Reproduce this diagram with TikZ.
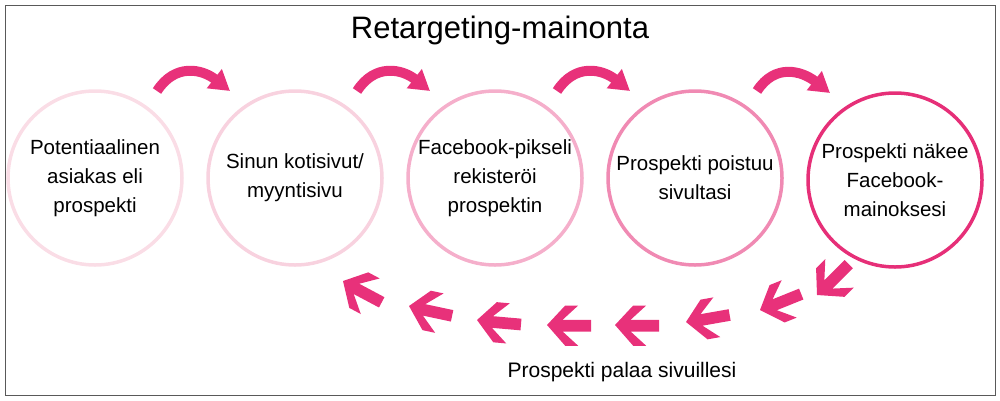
\documentclass[tikz,border=0pt]{standalone}
\usepackage{fontspec}
\setmainfont{Liberation Sans}
\usetikzlibrary{arrows.meta}
\definecolor{pk}{HTML}{E8317A}
\definecolor{ca}{HTML}{FADDE6}
\definecolor{cb}{HTML}{F8D2DF}
\definecolor{cc}{HTML}{F5AFCB}
\definecolor{cd}{HTML}{F08AB3}
\definecolor{ce}{HTML}{E62F78}
\begin{document}
\begin{tikzpicture}[x=1pt,y=-1pt,
  circ/.style={circle,draw=#1,line width=3.5pt,minimum size=174pt,align=center,font=\fontsize{20.5}{29}\selectfont,inner sep=0pt},
  curv/.style={draw=pk,line width=10pt,-{Triangle[length=20pt,width=34pt,angle'=60]}},
  chev/.pic={\fill[pk,scale=1.3] (0,0) -- (14,-15) -- (24,-15) -- (12,-4) -- (34,-4) -- (34,5) -- (12,5) -- (24,16) -- (14,16) -- cycle;}]
\useasboundingbox (0,0) rectangle (1000,400);
\draw[gray!70!black,line width=1pt] (5,5) rectangle (995,395);
\node (t) at (500,30) {\fontsize{31}{36}\selectfont Retargeting-mainonta};
\node[circ=ca] (c1) at (95,178) {Potentiaalinen\\asiakas eli\\prospekti};
\node[circ=cb] (c2) at (295,178) {Sinun kotisivut/\\myyntisivu};
\node[circ=cc] (c3) at (495,178) {Facebook-pikseli\\rekisteröi\\prospektin};
\node[circ=cd] (c4) at (695,178) {Prospekti poistuu\\sivultasi};
\node[circ=ce] (c5) at (895,180) {Prospekti näkee\\Facebook-\\mainoksesi};
\foreach \i/\j in {c1/c2,c2/c3,c3/c4,c4/c5}{
  \path (\i.center) ++(62,-87) coordinate (s\i);
  \path (\j.center) ++(-65,-87) coordinate (e\i);
  \draw[curv] (s\i) .. controls ++(18,-28) and ++(-28,-22) .. (e\i);
}
\foreach \x/\y/\a in {343/281/-28,409/306/-12,477/320/-5,547/325/0,615/325/0,686/322/10,760/310/22,817/295/45}
  \pic[rotate=\a] at (\x,\y) {chev};
\node (b) at (622,372) {\fontsize{21}{24}\selectfont Prospekti palaa sivuillesi};
\end{tikzpicture}
\end{document}
